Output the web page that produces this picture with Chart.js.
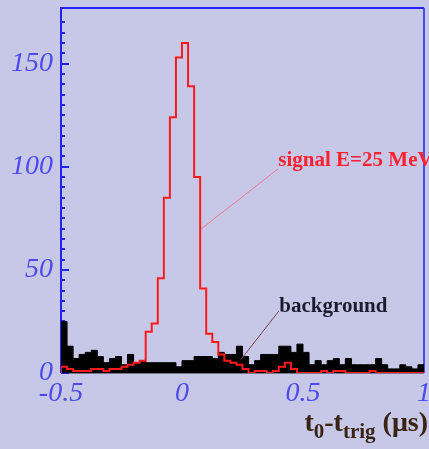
<!DOCTYPE html>
<html>
<head>
<meta charset="utf-8">
<script src="https://cdn.jsdelivr.net/npm/chart.js@4.4.0/dist/chart.umd.min.js"></script>
<style>
html, body { margin: 0; padding: 0; background: #c7c7e7; }
#wrap { width: 429px; height: 449px; }
</style>
</head>
<body>
<div id="wrap"><canvas id="histChart" width="429" height="449"></canvas></div>
<script>
// bin edges of the histogram (t0 - ttrig, in microseconds)
const binEdges = [
  -0.5, -0.475, -0.45, -0.425, -0.4, -0.375, -0.35, -0.325, -0.3, -0.275,
  -0.25, -0.225, -0.2, -0.175, -0.15, -0.125, -0.1, -0.075, -0.05, -0.025,
  0, 0.025, 0.05, 0.075, 0.1, 0.125, 0.15, 0.175, 0.2, 0.225,
  0.25, 0.275, 0.3, 0.325, 0.35, 0.375, 0.4, 0.425, 0.45, 0.475,
  0.5, 0.525, 0.55, 0.575, 0.6, 0.625, 0.65, 0.675, 0.7, 0.725,
  0.75, 0.775, 0.8, 0.825, 0.85, 0.875, 0.9, 0.925, 0.95, 0.975, 1.0
];

// signal E=25 MeV, counts per bin
const signalCounts = [
  3, 2, 1, 1, 1, 2, 2, 1, 2, 2,
  3, 4, 5, 6, 20, 24, 46, 85, 124, 153,
  160, 139, 95, 41, 19, 15, 9, 6, 5, 4,
  2, 0, 1, 1, 0, 1, 3, 5, 2, 0,
  0, 0, 0, 1, 0, 1, 1, 0, 0, 0,
  0, 1, 0, 0, 0, 0, 0, 0, 0, 0
];

// background, counts per bin
const backgroundCounts = [
  25, 13, 7, 9, 10, 11, 8, 5, 7, 8,
  4, 9, 5, 6, 5, 5, 5, 5, 5, 3,
  6, 6, 8, 8, 8, 7, 10, 9, 9, 13,
  8, 4, 6, 9, 9, 9, 13, 13, 10, 14,
  10, 4, 6, 4, 6, 7, 4, 7, 4, 4,
  4, 4, 7, 4, 2, 2, 4, 3, 2, 4
];

const yTickLabels = [0, 50, 100, 150];
const xTickLabels = [-0.5, 0, 0.5, 1];

const axisBlue = '#2222ff';
const labelBlue = '#4a4af0';

// outline points for a step histogram
function stepPoints(counts) {
  const last = binEdges.length - 1;
  const pts = [{ x: binEdges[0], y: 0 }];
  counts.forEach((c, i) => pts.push({ x: binEdges[i], y: c }));
  pts.push({ x: binEdges[last], y: counts[counts.length - 1] });
  pts.push({ x: binEdges[last], y: 0 });
  return pts;
}

const framePlugin = {
  id: 'frame',
  beforeDraw(chart) {
    const ctx = chart.ctx;
    ctx.save();
    ctx.fillStyle = '#c7c7e7';
    ctx.fillRect(0, 0, chart.width, chart.height);
    ctx.restore();
  },
  beforeDatasetsDraw(chart) {
    const { ctx, chartArea: a, scales } = chart;
    ctx.save();
    // bottom line
    ctx.strokeStyle = '#777790';
    ctx.lineWidth = 1;
    ctx.beginPath();
    ctx.moveTo(a.left, a.bottom + 0.5);
    ctx.lineTo(a.right, a.bottom + 0.5);
    ctx.stroke();
    // blue frame: top, left, right
    ctx.strokeStyle = axisBlue;
    ctx.lineWidth = 2;
    ctx.beginPath();
    ctx.moveTo(a.left, a.bottom);
    ctx.lineTo(a.left, a.top);
    ctx.lineTo(a.right, a.top);
    ctx.stroke();
    ctx.lineWidth = 1.5;
    ctx.beginPath();
    ctx.moveTo(a.right, a.top);
    ctx.lineTo(a.right, a.bottom);
    ctx.stroke();
    // inward ticks on the y axis
    ctx.lineWidth = 2;
    scales.y.ticks.forEach(t => {
      if (t.value % 5 !== 0) return;
      const py = Math.round(scales.y.getPixelForValue(t.value));
      const len = t.value % 50 === 0 ? 8 : 4;
      ctx.beginPath();
      ctx.moveTo(a.left, py);
      ctx.lineTo(a.left + len, py);
      ctx.stroke();
    });
    ctx.restore();
  },
  afterDatasetsDraw(chart) {
    const { ctx, scales } = chart;
    const X = v => scales.x.getPixelForValue(v);
    const Y = v => scales.y.getPixelForValue(v);
    ctx.save();
    // leader lines
    ctx.lineWidth = 1;
    ctx.strokeStyle = '#f07a8a';
    ctx.beginPath();
    ctx.moveTo(X(0.397), Y(99));
    ctx.lineTo(X(0.081), Y(70));
    ctx.stroke();
    ctx.strokeStyle = '#804050';
    ctx.beginPath();
    ctx.moveTo(X(0.4), Y(30));
    ctx.lineTo(X(0.243), Y(6.5));
    ctx.stroke();
    // labels
    ctx.font = 'bold 21px "Liberation Serif"';
    ctx.textBaseline = 'alphabetic';
    ctx.textAlign = 'left';
    ctx.fillStyle = '#ff2030';
    ctx.fillText('signal E=25 MeV', X(0.398), Y(100.5));
    ctx.fillStyle = '#1c1c30';
    ctx.fillText('background', X(0.402), Y(29.5));
    ctx.restore();
  },
  afterDraw(chart) {
    // x axis title t0-ttrig (μs) with subscripts
    const ctx = chart.ctx;
    const parts = [
      ['t', 0], ['0', 1], ['-', 0], ['t', 0], ['trig', 1], [' (μs)', 0]
    ];
    const mainFont = 'bold 28px "Liberation Serif"';
    const subFont = 'bold 21px "Liberation Serif"';
    ctx.save();
    let total = 0;
    parts.forEach(p => {
      ctx.font = p[1] ? subFont : mainFont;
      total += ctx.measureText(p[0]).width;
    });
    let x = 428 - total;
    const base = 431;
    ctx.fillStyle = '#3a2414';
    ctx.textBaseline = 'alphabetic';
    parts.forEach(p => {
      ctx.font = p[1] ? subFont : mainFont;
      ctx.fillText(p[0], x, p[1] ? base + 7 : base);
      x += ctx.measureText(p[0]).width;
    });
    ctx.restore();
  }
};

new Chart(document.getElementById('histChart').getContext('2d'), {
  type: 'line',
  data: {
    datasets: [
      {
        label: 'signal E=25 MeV',
        data: stepPoints(signalCounts),
        stepped: true,
        borderColor: '#ff1a1a',
        borderWidth: 2,
        pointRadius: 0,
        fill: false,
        order: 1
      },
      {
        label: 'background',
        data: stepPoints(backgroundCounts),
        stepped: true,
        borderColor: '#000000',
        borderWidth: 1,
        backgroundColor: '#000000',
        pointRadius: 0,
        fill: 'origin',
        order: 2
      }
    ]
  },
  options: {
    responsive: false,
    animation: false,
    devicePixelRatio: 1,
    layout: { padding: { top: 8, right: 5, left: 0, bottom: 0 } },
    plugins: {
      legend: { display: false },
      tooltip: { enabled: false }
    },
    scales: {
      x: {
        type: 'linear',
        min: -0.5,
        max: 1.0,
        grid: { display: false, drawTicks: false },
        border: { display: false },
        ticks: {
          stepSize: 0.5,
          autoSkip: false,
          maxRotation: 0,
          padding: 4,
          color: labelBlue,
          font: { family: 'Liberation Serif', style: 'italic', size: 28 },
          callback: v => xTickLabels.includes(v) ? String(v) : ''
        },
        afterFit: s => { s.height = 76; s.paddingLeft = 0; s.paddingRight = 0; }
      },
      y: {
        min: 0,
        max: 177,
        grid: { display: false, drawTicks: false },
        border: { display: false },
        ticks: {
          stepSize: 5,
          autoSkip: false,
          padding: 8,
          color: labelBlue,
          font: { family: 'Liberation Serif', style: 'italic', size: 28 },
          callback: v => yTickLabels.includes(v) ? String(v) : ''
        },
        afterFit: s => { s.width = 61; s.paddingTop = 0; s.paddingBottom = 0; }
      }
    }
  },
  plugins: [framePlugin]
});
</script>
</body>
</html>
